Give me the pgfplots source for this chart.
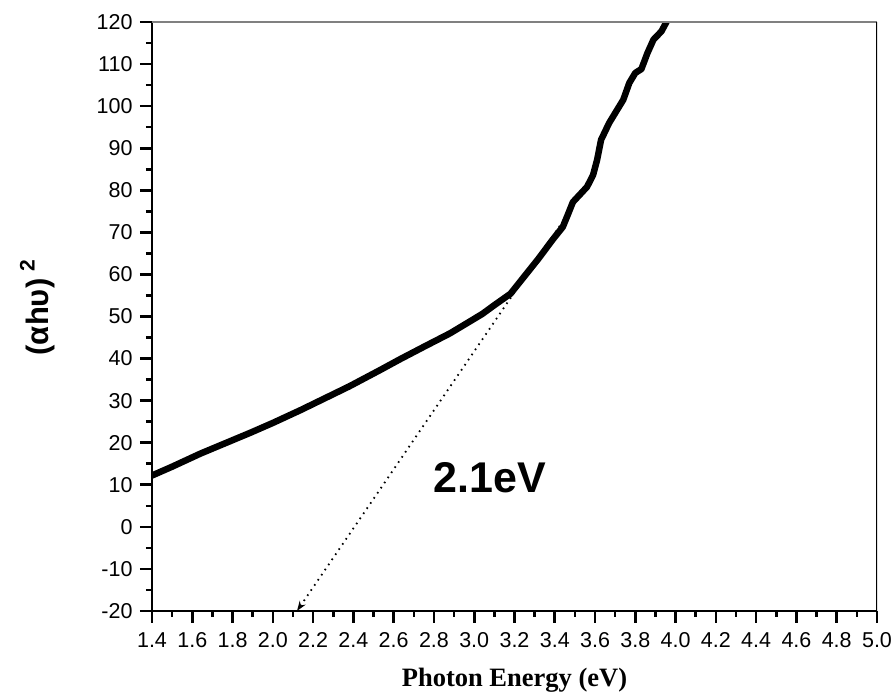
\documentclass[border=0pt]{standalone}
\usepackage{fontspec}
\setmainfont{Liberation Sans}
\newfontfamily\timesfont{Liberation Serif}
\usepackage{pgfplots}
\pgfplotsset{compat=1.18}
\usetikzlibrary{arrows.meta}
\begin{document}
\begin{tikzpicture}[x=1pt,y=1pt]
\useasboundingbox (0,0) rectangle (895,698);
\begin{axis}[
  at={(152pt,87pt)}, anchor=south west,
  scale only axis, width=725pt, height=589pt,
  xmin=1.4, xmax=5.0, ymin=-20, ymax=120,
  axis lines=left, axis line style={-, line width=2.6pt},
  xtick={1.4,1.6,1.8,2.0,2.2,2.4,2.6,2.8,3.0,3.2,3.4,3.6,3.8,4.0,4.2,4.4,4.6,4.8,5.0},
  ytick={-20,-10,0,10,20,30,40,50,60,70,80,90,100,110,120},
  minor x tick num=1, minor y tick num=1,
  tick align=outside,
  major tick length=12pt, minor tick length=6pt,
  every tick/.style={black, line width=2.6pt},
  tick label style={font=\fontsize{21.5}{25}\selectfont},
  /pgf/number format/assume math mode=true,
  xticklabel style={yshift=-6pt, /pgf/number format/.cd, fixed, fixed zerofill, precision=1},
  yticklabel style={xshift=-4pt, /pgf/number format/.cd, fixed, precision=0},
  xlabel={\timesfont\bfseries Photon Energy (eV)},
  xlabel style={font=\fontsize{26.5}{30}\selectfont, at={(axis description cs:0.5,-0.129)}, anchor=base},
  ylabel={\bfseries (αhυ)\hspace{7pt}\raisebox{0.45em}{\fontsize{21}{21}\selectfont\bfseries 2}},
  ylabel style={font=\fontsize{31}{35}\selectfont, at={(axis description cs:-0.158,0.515)}, anchor=center},
]
\addplot[black, line width=6.5pt, line join=round] coordinates {
(1.40,12.2) (1.50,14.3) (1.64,17.4) (1.80,20.6) (1.89,22.4) (2.00,24.7) (2.14,27.8)
(2.26,30.6) (2.38,33.4) (2.53,37.2) (2.63,39.8) (2.75,42.8) (2.88,46.0) (2.96,48.3)
(3.04,50.6) (3.10,52.7) (3.18,55.4) (3.24,59.0) (3.32,63.8) (3.39,68.3) (3.44,71.3)
(3.47,74.8) (3.49,77.2) (3.56,80.8) (3.59,83.6) (3.61,87.2) (3.63,92.0) (3.67,96.0)
(3.74,101.5) (3.77,105.5) (3.80,107.9) (3.83,108.8) (3.86,112.6) (3.89,115.8)
(3.93,117.8) (3.96,120.5)
};
\addplot[black, line width=1.8pt, dash pattern=on 1.6pt off 4.6pt, -{Stealth[length=10pt,width=7pt]}] coordinates {(3.46,74) (2.12,-20)};
\node[font=\fontsize{43}{48}\selectfont\bfseries] at (axis cs:3.078,11.7) {2.1eV};
\draw[gray, line width=1.8pt] (rel axis cs:0,1) -- (rel axis cs:1,1);
\draw[black, line width=1.4pt] (rel axis cs:1,0) -- (rel axis cs:1,1);
\end{axis}
\end{tikzpicture}
\end{document}
